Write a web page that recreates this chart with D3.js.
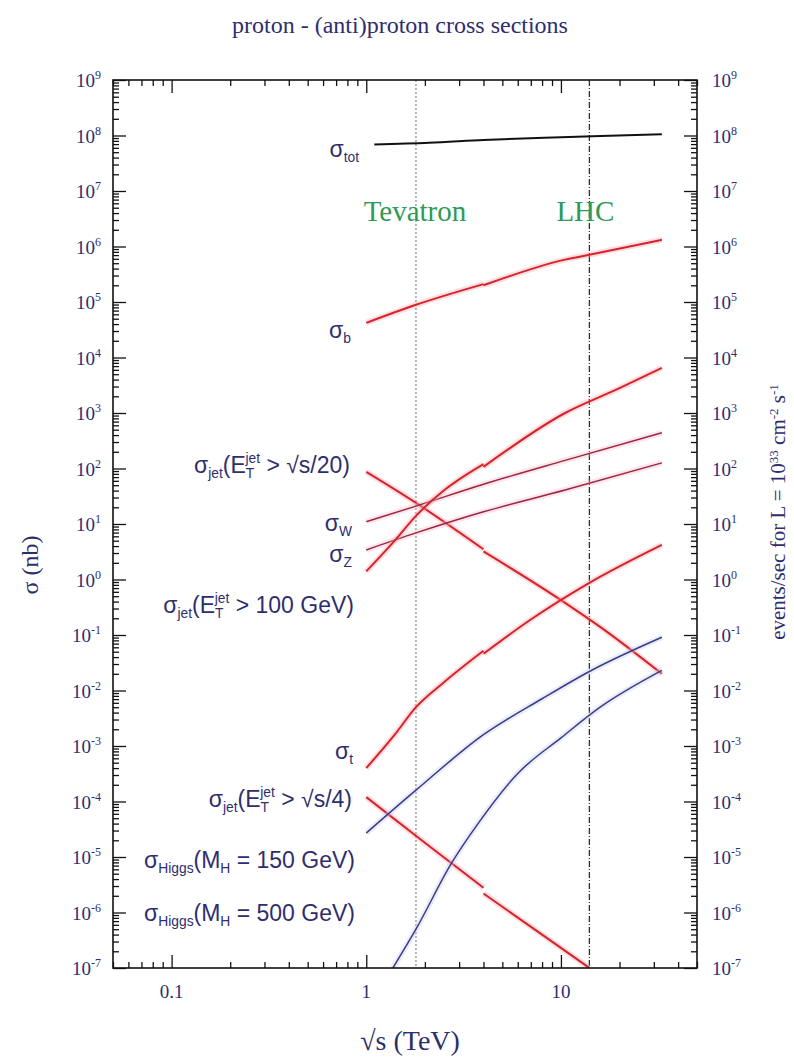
<!DOCTYPE html>
<html>
<head>
<meta charset="utf-8">
<script src="https://cdn.jsdelivr.net/npm/d3@7"></script>
<style>
  body { margin: 0; background: #ffffff; }
  svg { display: block; }
</style>
</head>
<body>
<svg id="chart" width="794" height="1059"></svg>
<script>
// Cross sections: [sqrt(s) in TeV, sigma in nb].
// A null splits a curve at 4 TeV: p-pbar below, p-p above.
const sigmaTot   = [[1.1,6.9e7],[2.1,7.4e7],[4,8.3e7],[10,9.3e7],[16,9.8e7],[33,1.05e8]];
const sigmaB     = [[1,4.2e4],[1.8,8.9e4],[4,2.1e5],null,[4,2.0e5],[10.5,5.8e5],[14,7.1e5],[33,1.32e6]];
const sigmaJet20 = [[1,87],[1.8,24],[4,3.5],null,[4,3.2],[10.5,0.38],[15.9,0.14],[33,0.020]];
const sigmaW     = [[1,11],[1.8,21],[4,52],[10.5,140],[33,440]];
const sigmaZ     = [[1,3.4],[1.8,6.9],[4,16.6],[10.5,41],[33,126]];
const sigmaJet100= [[1,1.4],[1.4,5.0],[1.8,14],[2.5,40],[4,120],null,[4,107],[10.5,1000],[20,2800],[33,6500]];
const sigmaTop   = [[1,4.0e-4],[1.4,1.6e-3],[1.8,5.0e-3],[2.5,1.4e-2],[4,5.2e-2],null,[4,4.6e-2],[7,0.19],[14,0.87],[33,4.2]];
const sigmaJet4  = [[1,1.2e-4],[2,1.8e-5],[4,2.8e-6],null,[4,2.2e-6],[8,4.0e-7],[14,1.0e-7]];
const sigmaH150  = [[1,2.7e-5],[1.8,1.6e-4],[4,1.6e-3],[8,7.1e-3],[14,2.2e-2],[33,9.1e-2]];
const sigmaH500  = [[1.37,1.0e-7],[1.8,5.0e-7],[2.75,7.9e-6],[3.75,4.0e-5],[6,3.2e-4],[10,1.4e-3],[15.9,5.0e-3],[33,2.3e-2]];

// Collider energies (TeV)
const colliderNames  = ["Tevatron", "LHC"];
const colliderEnergy = [1.8, 14];

// Axis ticks
const yExponents   = [-7,-6,-5,-4,-3,-2,-1,0,1,2,3,4,5,6,7,8,9];
const xMajorTicks  = [0.1, 1, 10];
const xTickLabels  = ["0.1", "1", "10"];

(function draw() {
const svg = d3.select("#chart");
const pL = 113, pR = 697, pT = 80, pB = 968;

const x = d3.scaleLog().domain([0.05, 50]).range([pL, pR]);
const y = d3.scaleLog().domain([1e-7, 1e9]).range([pB, pT]);

const navy = "#2e2e6e";
const serif = "'Liberation Serif', 'DejaVu Serif', serif";
const sans = "'Liberation Sans', Arial, sans-serif";

// ---------- title ----------
svg.append("text")
  .attr("x", 400).attr("y", 33)
  .attr("text-anchor", "middle")
  .attr("font-family", serif).attr("font-size", 24)
  .attr("fill", navy)
  .text("proton - (anti)proton cross sections");

// ---------- clip ----------
svg.append("clipPath").attr("id", "plotClip")
  .append("rect").attr("x", pL).attr("y", pT)
  .attr("width", pR - pL).attr("height", pB - pT);

// ---------- ticks ----------
const yMajor = yExponents.map(e => Math.pow(10, e));
const yMinor = [];
yExponents.slice(0, -1).forEach(e => { for (let k = 2; k <= 9; k++) yMinor.push(k * Math.pow(10, e)); });
const xMinor = [];
[0.01, 0.1, 1, 10].forEach(d => { for (let k = 2; k <= 9; k++) { const v = k * d; if (v >= 0.05 && v <= 50) xMinor.push(v); } });

function ticks(axisGen, tx, ty) {
  const g = svg.append("g").attr("transform", `translate(${tx},${ty})`).call(axisGen);
  g.select(".domain").remove();
  g.selectAll("line").attr("stroke", "#111").attr("stroke-width", 1.3);
  g.selectAll("text").remove();
  return g;
}
ticks(d3.axisLeft(y).tickValues(yMajor).tickSize(-13).tickFormat(""), pL, 0);
ticks(d3.axisLeft(y).tickValues(yMinor).tickSize(-6).tickFormat(""), pL, 0);
ticks(d3.axisRight(y).tickValues(yMajor).tickSize(-13).tickFormat(""), pR, 0);
ticks(d3.axisRight(y).tickValues(yMinor).tickSize(-6).tickFormat(""), pR, 0);
ticks(d3.axisBottom(x).tickValues(xMajorTicks).tickSize(-13).tickFormat(""), 0, pB);
ticks(d3.axisBottom(x).tickValues(xMinor).tickSize(-6).tickFormat(""), 0, pB);
ticks(d3.axisTop(x).tickValues(xMajorTicks).tickSize(-13).tickFormat(""), 0, pT);
ticks(d3.axisTop(x).tickValues(xMinor).tickSize(-6).tickFormat(""), 0, pT);

// ---------- tick labels ----------
function powerLabel(g, e, xPos, anchor) {
  const t = g.append("text")
    .attr("x", xPos).attr("y", y(Math.pow(10, e)) + 7)
    .attr("text-anchor", anchor)
    .attr("font-family", serif).attr("font-size", 19)
    .attr("fill", navy);
  t.append("tspan").text("10");
  t.append("tspan").attr("dy", -8).attr("font-size", 12).text(String(e));
}
const labelsL = svg.append("g");
const labelsR = svg.append("g");
yExponents.forEach(e => {
  powerLabel(labelsL, e, 101, "end");
  powerLabel(labelsR, e, 712, "start");
});
svg.append("g").selectAll("text").data(xMajorTicks).join("text")
  .attr("x", d => x(d)).attr("y", 998)
  .attr("text-anchor", "middle")
  .attr("font-family", serif).attr("font-size", 19).attr("fill", navy)
  .text((d, i) => xTickLabels[i]);

// ---------- axis titles ----------
svg.append("text")
  .attr("x", 410).attr("y", 1050)
  .attr("text-anchor", "middle")
  .attr("font-family", serif).attr("font-size", 28).attr("fill", navy)
  .text("\u221As  (TeV)");

svg.append("text")
  .attr("transform", "translate(38,565) rotate(-90)")
  .attr("text-anchor", "middle")
  .attr("font-family", serif).attr("font-size", 24).attr("fill", navy)
  .text("\u03C3 (nb)");

const rt = svg.append("text")
  .attr("transform", "translate(785,512) rotate(-90)")
  .attr("text-anchor", "middle")
  .attr("font-family", serif).attr("font-size", 21).attr("fill", navy);
rt.append("tspan").text("events/sec for L = 10");
rt.append("tspan").attr("dy", -7).attr("font-size", 13).text("33");
rt.append("tspan").attr("dy", 7).text(" cm");
rt.append("tspan").attr("dy", -7).attr("font-size", 13).text("-2");
rt.append("tspan").attr("dy", 7).text(" s");
rt.append("tspan").attr("dy", -7).attr("font-size", 13).text("-1");

// ---------- collider lines ----------
const plot = svg.append("g").attr("clip-path", "url(#plotClip)");
const colliderStyle = [
  { stroke: "#6f8a72", dash: "2,2", width: 1.1 },
  { stroke: "#1f3a2c", dash: "6,2,1,2", width: 1.3 }
];
colliderEnergy.forEach((E, i) => {
  plot.append("line")
    .attr("x1", x(E)).attr("x2", x(E))
    .attr("y1", pT).attr("y2", pB)
    .attr("stroke", colliderStyle[i].stroke)
    .attr("stroke-width", colliderStyle[i].width)
    .attr("stroke-dasharray", colliderStyle[i].dash);
  svg.append("text")
    .attr("x", x(E) + (i === 0 ? -1 : -4)).attr("y", 221)
    .attr("text-anchor", "middle")
    .attr("font-family", serif).attr("font-size", 29)
    .attr("fill", "#2f9a55")
    .text(colliderNames[i]);
});

// ---------- curves ----------
const line = d3.line()
  .defined(d => d !== null)
  .x(d => x(d[0])).y(d => y(d[1]))
  .curve(d3.curveMonotoneX);

const red = "#d6232c", maroon = "#9c2445", blue = "#3b3c86";
const curves = [
  { data: sigmaTot,    color: "#111111", width: 2.0, halo: null },
  { data: sigmaB,      color: red,    width: 2.0, halo: "#f3a0a8" },
  { data: sigmaJet20,  color: red,    width: 2.0, halo: "#f3a0a8" },
  { data: sigmaW,      color: maroon, width: 1.4, halo: "#f3b8c4" },
  { data: sigmaZ,      color: maroon, width: 1.4, halo: "#f3b8c4" },
  { data: sigmaJet100, color: red,    width: 2.0, halo: "#f3a0a8" },
  { data: sigmaTop,    color: red,    width: 2.0, halo: "#f3a0a8" },
  { data: sigmaJet4,   color: red,    width: 2.0, halo: "#f3a0a8" },
  { data: sigmaH150,   color: blue,   width: 1.5, halo: "#c4c8ee" },
  { data: sigmaH500,   color: blue,   width: 1.5, halo: "#c4c8ee" }
];
curves.forEach(c => {
  if (c.halo) {
    plot.append("path").attr("d", line(c.data))
      .attr("fill", "none").attr("stroke", c.halo)
      .attr("stroke-width", 6).attr("stroke-opacity", 0.35);
  }
  plot.append("path").attr("d", line(c.data))
    .attr("fill", "none").attr("stroke", c.color)
    .attr("stroke-width", c.width).attr("stroke-linejoin", "round");
});

// ---------- frame ----------
svg.append("rect")
  .attr("x", pL).attr("y", pT)
  .attr("width", pR - pL).attr("height", pB - pT)
  .attr("fill", "none").attr("stroke", "#111").attr("stroke-width", 1.6);

// ---------- curve labels ----------
// parts: [text, mode]; mode is "n" (normal), "sub", "sup" or "supOver" (superscript stacked over the previous subscript)
function richLabel(xEnd, yBase, parts, size) {
  const t = svg.append("text")
    .attr("x", xEnd).attr("y", yBase)
    .attr("text-anchor", "end")
    .attr("font-family", sans).attr("font-size", size)
    .attr("fill", navy);
  let cur = 0;
  parts.forEach(([txt, mode]) => {
    const target = mode === "sub" ? 5 : (mode === "sup" || mode === "supOver") ? -10 : 0;
    const s = t.append("tspan").attr("dy", target - cur).text(txt);
    if (mode !== "n") s.attr("font-size", size * 0.6);
    if (mode === "supOver") s.attr("dx", -size * 0.38);
    cur = target;
  });
  return t;
}
const fs = 23;
richLabel(359, 157, [["\u03C3","n"],["tot","sub"]], fs);
richLabel(351, 338, [["\u03C3","n"],["b","sub"]], fs);
richLabel(350, 473, [["\u03C3","n"],["jet","sub"],["(E","n"],["T","sub"],["jet","supOver"],[" > \u221As/20)","n"]], fs);
richLabel(352, 531, [["\u03C3","n"],["W","sub"]], fs);
richLabel(352, 562, [["\u03C3","n"],["Z","sub"]], fs);
richLabel(354, 613, [["\u03C3","n"],["jet","sub"],["(E","n"],["T","sub"],["jet","supOver"],[" > 100 GeV)","n"]], fs);
richLabel(353, 759, [["\u03C3","n"],["t","sub"]], fs);
richLabel(352, 807, [["\u03C3","n"],["jet","sub"],["(E","n"],["T","sub"],["jet","supOver"],[" > \u221As/4)","n"]], fs);
richLabel(355, 868, [["\u03C3","n"],["Higgs","sub"],["(M","n"],["H","sub"],[" = 150 GeV)","n"]], fs);
richLabel(355, 921, [["\u03C3","n"],["Higgs","sub"],["(M","n"],["H","sub"],[" = 500 GeV)","n"]], fs);
})();
</script>
</body>
</html>
